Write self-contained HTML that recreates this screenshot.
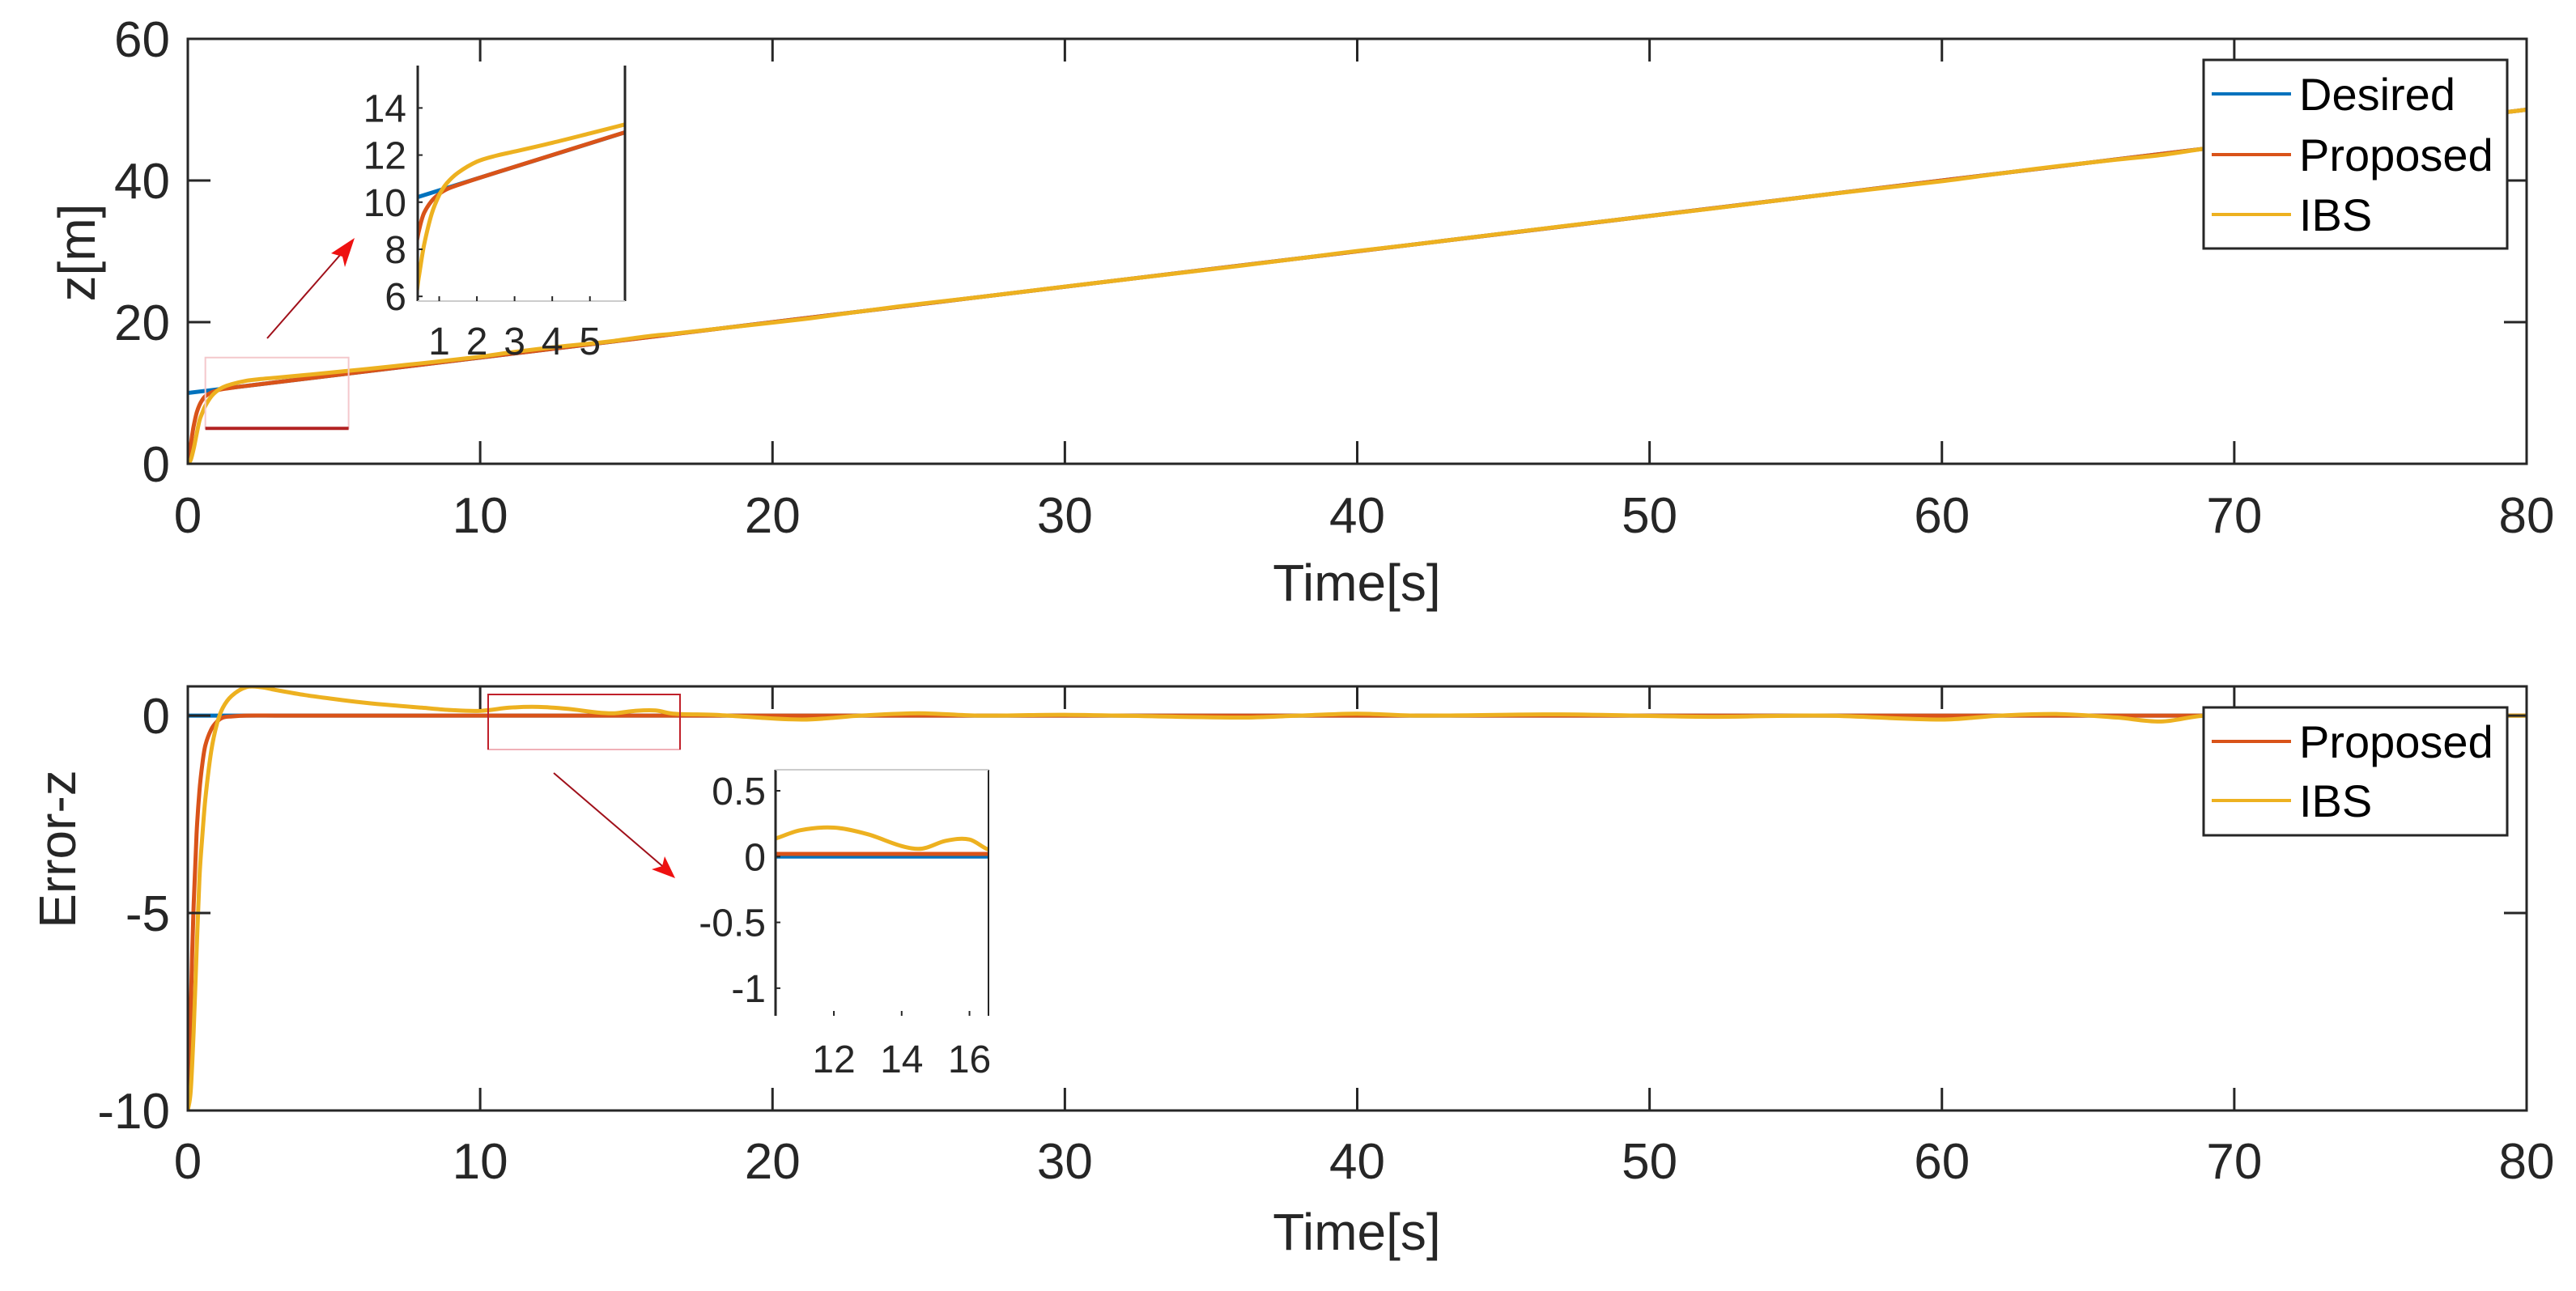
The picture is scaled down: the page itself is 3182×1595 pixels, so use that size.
<!DOCTYPE html>
<html><head><meta charset="utf-8">
<style>
html,body{margin:0;padding:0;background:#fff;overflow:hidden;width:3182px;height:1595px;}
svg{display:block;font-family:"Liberation Sans",Arial,sans-serif;}
</style></head>
<body>
<svg id="fig" width="3182" height="1595" viewBox="0 0 3182 1595" xmlns="http://www.w3.org/2000/svg"></svg>
<script>
// ---- data ----
const tP = [0,0.05,0.1,0.15,0.2,0.3,0.4,0.5,0.6,0.8,1.0,1.2,1.5,2,3,5,10,20,40,60,80];
const errP = [-10,-9,-7.5,-6,-4.8,-3,-1.9,-1.2,-0.75,-0.35,-0.15,-0.05,-0.02,0,0,0,0,0,0,0,0];
const tI = [0,0.1,0.2,0.3,0.4,0.5,0.6,0.8,1.0,1.2,1.5,2,2.5,3,4,5,6,7,8,9,10,11,12,13,14,14.6,15.3,16,16.6,18,21,23,25,27,30,36,38,40,42,47,52,56,60,62,64,66,67.5,69,72,76,80];
const errI = [-10,-9.5,-8,-6,-4.1,-3,-2.1,-0.9,-0.2,0.2,0.5,0.72,0.72,0.65,0.52,0.42,0.33,0.26,0.2,0.14,0.12,0.2,0.22,0.17,0.08,0.06,0.12,0.13,0.05,0.02,-0.1,0,0.06,0,0.02,-0.05,0,0.05,0,0.03,-0.03,0,-0.1,0,0.04,-0.05,-0.15,0,0,0,0];
const desiredStart = [0,10];
const desiredEnd = [80,50];
const xTicks = [0,10,20,30,40,50,60,70,80];
const zTicks = [0,20,40,60];
const eTicks = [0,-5,-10];
const inZTicks = [6,8,10,12,14];
const inTTicks = [1,2,3,4,5];
const inETicks = [0.5,0,-0.5,-1];
const inETTicks = [12,14,16];

const NS="http://www.w3.org/2000/svg";
const svg=document.getElementById('fig');
function el(tag,attrs,parent,text){const e=document.createElementNS(NS,tag);for(const k in attrs)e.setAttribute(k,attrs[k]);if(text!==undefined)e.textContent=text;(parent||svg).appendChild(e);return e;}
const C={b:'#0072BD',r:'#D95319',y:'#EDB120'};
function desired(t){return desiredStart[1]+(desiredEnd[1]-desiredStart[1])*(t-desiredStart[0])/(desiredEnd[0]-desiredStart[0]);}
function pathFrom(ts,vs,sx,sy){
  const p=ts.map((t,i)=>[sx(t),sy(vs[i])]);
  let d='M'+p[0][0].toFixed(1)+','+p[0][1].toFixed(1);
  for(let i=0;i<p.length-1;i++){
    const p0=p[Math.max(0,i-1)],p1=p[i],p2=p[i+1],p3=p[Math.min(p.length-1,i+2)];
    // scale tangents to local segment length to avoid loops with uneven spacing
    const h=p2[0]-p1[0];
    const m1=(p2[1]-p0[1])/((p2[0]-p0[0])||1), m2=(p3[1]-p1[1])/((p3[0]-p1[0])||1);
    const c1=[p1[0]+h/3,p1[1]+m1*h/3];
    const c2=[p2[0]-h/3,p2[1]-m2*h/3];
    d+='C'+c1.map(v=>v.toFixed(1)).join(',')+' '+c2.map(v=>v.toFixed(1)).join(',')+' '+p2[0].toFixed(1)+','+p2[1].toFixed(1);
  }
  return d;
}
function dense(ts,vs){return [ts, ts.map((t,i)=>desired(t)+vs[i])];}
function axes(name,x0,x1,y0,y1,xl,yl){
  const sx=v=>x0+(v-xl[0])/(xl[1]-xl[0])*(x1-x0);
  const sy=v=>y1-(v-yl[0])/(yl[1]-yl[0])*(y1-y0);
  const g=el('g',{},svg);
  
  
  const cp=el('clipPath',{id:'c-'+name},g);
  el('rect',{x:x0,y:y0,width:x1-x0,height:y1-y0},cp);
  const data=el('g',{'clip-path':'url(#c-'+name+')'},g);
  return {g,data,sx,sy,x0,x1,y0,y1};
}
function box(a,w){el('rect',{x:a.x0,y:a.y0,width:a.x1-a.x0,height:a.y1-a.y0,fill:'none',stroke:'#262626','stroke-width':w},a.g);}
function line(a,ts,vs,color,w,name){
  const p=el('path',{d:pathFrom(ts,vs,a.sx,a.sy),fill:'none',stroke:color,'stroke-width':w,'stroke-linejoin':'round'},a.data);
  
  
}

// ===== Top axes =====
const A=axes('z-plot',232,3121,48,573,[0,80],[0,60]);
line(A,[desiredStart[0],desiredEnd[0]],[desiredStart[1],desiredEnd[1]],C.b,5,'desired-line');
let zP=dense(tP,errP);line(A,zP[0],zP[1],C.r,5,'proposed-line');
let zI=dense(tI,errI);line(A,zI[0],zI[1],C.y,5,'ibs-line');
box(A,3);
xTicks.forEach(v=>{const x=A.sx(v);
  el('line',{x1:x,x2:x,y1:573,y2:545,stroke:'#262626','stroke-width':3},A.g);
  el('line',{x1:x,x2:x,y1:48,y2:76,stroke:'#262626','stroke-width':3},A.g);
  const t=el('text',{x:x,y:658,'font-size':62,'text-anchor':'middle',fill:'#262626'},A.g,String(v));
  });
zTicks.forEach(v=>{const y=A.sy(v);
  el('line',{x1:232,x2:260,y1:y,y2:y,stroke:'#262626','stroke-width':3},A.g);
  el('line',{x1:3121,x2:3093,y1:y,y2:y,stroke:'#262626','stroke-width':3},A.g);
  const t=el('text',{x:210,y:y+22,'font-size':62,'text-anchor':'end',fill:'#262626'},A.g,String(v));
  });
let t1=el('text',{x:1676,y:742,'font-size':64,'text-anchor':'middle',fill:'#262626'},svg,'Time[s]');

let t2=el('text',{x:0,y:0,'font-size':64,'text-anchor':'middle',fill:'#262626',transform:'translate(117,312) rotate(-90)'},svg,'z[m]');

const zr=el('g',{},svg);
el('rect',{x:A.sx(0.6),y:A.sy(15),width:A.sx(5.5)-A.sx(0.6),height:A.sy(5)-A.sy(15),fill:'none',stroke:'#f4c8cc','stroke-width':2},zr);
el('line',{x1:A.sx(0.6),x2:A.sx(5.5),y1:A.sy(5),y2:A.sy(5),stroke:'#b22222','stroke-width':4},zr);
const ar=el('g',{},svg);
el('line',{x1:330,y1:418,x2:428,y2:306,stroke:'#a0101a','stroke-width':2},ar);
el('polygon',{points:'438,294 409,313 423,317 426,330',fill:'#ee1111'},ar);

const L1=el('g',{},svg);
el('rect',{x:2722,y:74,width:375,height:233,fill:'#fff',stroke:'#262626','stroke-width':3},L1);
[['Desired',C.b,116],['Proposed',C.r,191],['IBS',C.y,265]].forEach(([n,c,y])=>{
  const g=el('g',{},L1);
  el('line',{x1:2732,x2:2830,y1:y,y2:y,stroke:c,'stroke-width':4},g);
  el('text',{x:2840,y:y+20,'font-size':56,fill:'#000'},g,n);});

// inset 1
const I1=axes('z-inset',516,772,81,372,[0.43,5.93],[5.8,15.8]);
el('rect',{x:516,y:81,width:256,height:291,fill:'#fff'},I1.data);
line(I1,[desiredStart[0],desiredEnd[0]],[desiredStart[1],desiredEnd[1]],C.b,5,'inset-desired-line');
line(I1,zP[0],zP[1],C.r,5,'inset-proposed-line');
line(I1,zI[0],zI[1],C.y,5,'inset-ibs-line');
el('line',{x1:516,x2:516,y1:81,y2:372,stroke:'#262626','stroke-width':3},I1.g);
el('line',{x1:772,x2:772,y1:81,y2:372,stroke:'#262626','stroke-width':3},I1.g);
el('line',{x1:516,x2:772,y1:372,y2:372,stroke:'#ccc','stroke-width':2},I1.g);
inZTicks.forEach(v=>{const y=I1.sy(v);
  el('line',{x1:516,x2:522,y1:y,y2:y,stroke:'#262626','stroke-width':2},I1.g);
  const t=el('text',{x:502,y:y+17,'font-size':48,'text-anchor':'end',fill:'#262626'},I1.g,String(v));
  });
inTTicks.forEach(v=>{const x=I1.sx(v);
  el('line',{x1:x,x2:x,y1:372,y2:366,stroke:'#262626','stroke-width':2},I1.g);
  const t=el('text',{x:x,y:438,'font-size':48,'text-anchor':'middle',fill:'#262626'},I1.g,String(v));
  });

// ===== Bottom axes =====
const B=axes('error-plot',232,3121,848,1372,[0,80],[-10,0.74]);
line(B,[0,80],[0,0],C.b,5,'zero-line');
line(B,tP,errP,C.r,5,'proposed-error-line');
line(B,tI,errI,C.y,5,'ibs-error-line');
box(B,3);
xTicks.forEach(v=>{const x=B.sx(v);
  el('line',{x1:x,x2:x,y1:1372,y2:1344,stroke:'#262626','stroke-width':3},B.g);
  el('line',{x1:x,x2:x,y1:848,y2:876,stroke:'#262626','stroke-width':3},B.g);
  const t=el('text',{x:x,y:1456,'font-size':62,'text-anchor':'middle',fill:'#262626'},B.g,String(v));
  });
eTicks.forEach(v=>{const y=B.sy(v);
  el('line',{x1:232,x2:260,y1:y,y2:y,stroke:'#262626','stroke-width':3},B.g);
  el('line',{x1:3121,x2:3093,y1:y,y2:y,stroke:'#262626','stroke-width':3},B.g);
  const t=el('text',{x:210,y:y+22,'font-size':62,'text-anchor':'end',fill:'#262626'},B.g,String(v));
  });
let t3=el('text',{x:1676,y:1544,'font-size':64,'text-anchor':'middle',fill:'#262626'},svg,'Time[s]');

let t4=el('text',{x:0,y:0,'font-size':64,'text-anchor':'middle',fill:'#262626',transform:'translate(93,1049) rotate(-90)'},svg,'Error-z');

const zr2=el('g',{},svg);
el('rect',{x:603,y:858,width:237,height:68,fill:'none',stroke:'#f0b0b8','stroke-width':2},zr2);
el('polyline',{points:'603,926 603,858 840,858 840,926',fill:'none',stroke:'#c0202a','stroke-width':2},zr2);
const ar2=el('g',{},svg);
el('line',{x1:684,y1:955,x2:824,y2:1075,stroke:'#a0101a','stroke-width':2},ar2);
el('polygon',{points:'834,1085 805,1074 818,1070 821,1058',fill:'#ee1111'},ar2);

const L2=el('g',{},svg);
el('rect',{x:2722,y:874,width:375,height:158,fill:'#fff',stroke:'#262626','stroke-width':3},L2);
[['Proposed',C.r,916],['IBS',C.y,989]].forEach(([n,c,y])=>{
  const g=el('g',{},L2);
  el('line',{x1:2732,x2:2830,y1:y,y2:y,stroke:c,'stroke-width':4},g);
  el('text',{x:2840,y:y+20,'font-size':56,fill:'#000'},g,n);});

// inset 2
const I2=axes('error-inset',958,1221,951,1255,[10.28,16.56],[-1.21,0.66]);
el('rect',{x:958,y:951,width:263,height:304,fill:'#fff'},I2.data);
line(I2,[0,80],[0,0],C.b,5,'inset-zero-line');
line(I2,tP,errP.map(v=>v+0.02),C.r,5,'inset-proposed-error-line');
line(I2,tI,errI,C.y,5,'inset-ibs-error-line');
el('line',{x1:958,x2:958,y1:951,y2:1255,stroke:'#262626','stroke-width':3},I2.g);
el('line',{x1:1221,x2:1221,y1:951,y2:1255,stroke:'#262626','stroke-width':2},I2.g);
el('line',{x1:958,x2:1221,y1:951,y2:951,stroke:'#ccc','stroke-width':2},I2.g);
inETicks.forEach(v=>{const y=I2.sy(v);
  el('line',{x1:958,x2:964,y1:y,y2:y,stroke:'#262626','stroke-width':2},I2.g);
  const t=el('text',{x:946,y:y+17,'font-size':48,'text-anchor':'end',fill:'#262626'},I2.g,String(v));
  });
inETTicks.forEach(v=>{const x=I2.sx(v);
  el('line',{x1:x,x2:x,y1:1255,y2:1249,stroke:'#262626','stroke-width':2},I2.g);
  const t=el('text',{x:x,y:1325,'font-size':48,'text-anchor':'middle',fill:'#262626'},I2.g,String(v));
  });
</script>
</body></html>
